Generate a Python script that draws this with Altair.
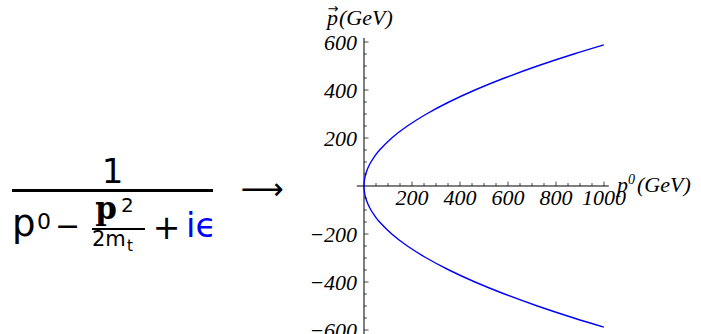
import altair as alt
import pandas as pd

# Momentum |p| (GeV) along the on-shell curve and the matching energy p0 (GeV)
p_vals = [-588, -550, -500, -450, -400, -350, -300, -250, -200, -150, -125, -100, -75, -50, -25,
          0, 25, 50, 75, 100, 125, 150, 200, 250, 300, 350, 400, 450, 500, 550, 588]
p0_vals = [999.3, 874.3, 722.5, 585.3, 462.4, 354.1, 260.1, 180.6, 115.6, 65.0, 45.2, 28.9, 16.3, 7.2, 1.8,
           0.0, 1.8, 7.2, 16.3, 28.9, 45.2, 65.0, 115.6, 180.6, 260.1, 354.1, 462.4, 585.3, 722.5, 874.3, 999.3]

# Axis ticks and their labels
x_ticks = list(range(50, 1001, 50))
y_ticks = [v for v in range(-600, 601, 50) if v != 0]
x_labels = [200, 400, 600, 800, 1000]
y_labels = [600, 400, 200, -200, -400, -600]

# Extent of the two axis lines crossing at the origin
x_axis_span = [-30, 1020]
y_axis_span = [-617, 617]

curve = pd.DataFrame({"p0": p0_vals, "p": p_vals, "order": range(len(p_vals))})
one = pd.DataFrame({"k": [0]})

xs = alt.Scale(domain=[-1516.667, 1404.167], nice=False, zero=False)
ys = alt.Scale(domain=[-616.667, 775.0], nice=False, zero=False)

SERIF = "Liberation Serif"
SANS = "DejaVu Sans"


def X(field):
    return alt.X(field, type="quantitative", scale=xs, axis=None)


def Y(field):
    return alt.Y(field, type="quantitative", scale=ys, axis=None)


def txt(s, x, y, size, font=SANS, align="left", color="black", style="normal", weight="normal", baseline="alphabetic"):
    return alt.Chart(one).mark_text(
        font=font, fontSize=size, align=align, baseline=baseline, color=color,
        fontStyle=style, fontWeight=weight,
    ).encode(x=alt.value(x), y=alt.value(y), text=alt.value(s))


def bar(x1, x2, y, w):
    return alt.Chart(one).mark_rule(color="black", strokeWidth=w).encode(
        x=alt.value(x1), x2=alt.value(x2), y=alt.value(y)
    )


# Axis lines through the origin
axes_df = pd.DataFrame({
    "x": [x_axis_span[0], 0], "x2": [x_axis_span[1], 0],
    "y": [0, y_axis_span[1]], "y2": [0, y_axis_span[0]],
})
axis_lines = alt.Chart(axes_df).mark_rule(color="black", strokeWidth=1).encode(
    x=X("x"), x2="x2", y=Y("y"), y2="y2"
)

xt = pd.DataFrame({"v": x_ticks, "zero": 0, "major": [v % 200 == 0 for v in x_ticks]})
yt = pd.DataFrame({"v": y_ticks, "zero": 0, "major": [v % 200 == 0 for v in y_ticks]})

x_minor = alt.Chart(xt).transform_filter("!datum.major").mark_tick(
    orient="vertical", size=3, thickness=1, color="black", yOffset=-1.5
).encode(x=X("v"), y=Y("zero"))
x_major = alt.Chart(xt).transform_filter("datum.major").mark_tick(
    orient="vertical", size=4.5, thickness=1, color="black", yOffset=-2.25
).encode(x=X("v"), y=Y("zero"))
y_minor = alt.Chart(yt).transform_filter("!datum.major").mark_tick(
    orient="horizontal", size=3, thickness=1, color="black", xOffset=1.5
).encode(x=X("zero"), y=Y("v"))
y_major = alt.Chart(yt).transform_filter("datum.major").mark_tick(
    orient="horizontal", size=4.5, thickness=1, color="black", xOffset=2.25
).encode(x=X("zero"), y=Y("v"))

xl = pd.DataFrame({"v": x_labels, "zero": 0, "s": [str(v) for v in x_labels]})
yl = pd.DataFrame({"v": y_labels, "zero": 0, "s": [str(v).replace("-", "\u2212") for v in y_labels]})

x_text = alt.Chart(xl).mark_text(
    font=SERIF, fontSize=22, fontStyle="italic", align="center", baseline="alphabetic", dy=19, color="black"
).encode(x=X("v"), y=Y("zero"), text="s:N")
y_text = alt.Chart(yl).mark_text(
    font=SERIF, fontSize=22, fontStyle="italic", align="right", baseline="middle", dx=-7, dy=1, color="black"
).encode(x=X("zero"), y=Y("v"), text="s:N")

line = alt.Chart(curve).mark_line(color="#0000ff", strokeWidth=1.4, interpolate="natural").encode(
    x=X("p0"), y=Y("p"), order="order:Q"
)

layers = [
    axis_lines, x_minor, x_major, y_minor, y_major, x_text, y_text, line,
    # axis titles
    txt("p", 617, 192, 22, SERIF, style="italic"),
    txt("0", 628, 184, 14, SERIF, style="italic"),
    txt("(GeV)", 637, 192, 22, SERIF, style="italic"),
    txt("p", 327, 25, 22, SERIF, style="italic"),
    txt("\u2192", 333, 13, 13, SANS, align="center"),
    txt("(GeV)", 339, 25, 22, SERIF, style="italic"),
    # propagator formula
    txt("1", 112.5, 183, 34, align="center"),
    bar(12, 213, 190.5, 3),
    txt("p", 12, 236, 37),
    txt("0", 37, 229, 22),
    txt("\u2212", 67.5, 236, 30, align="center"),
    txt("p", 106, 219, 31, "DejaVu Serif", align="center", weight="bold"),
    txt("2", 121, 212, 20),
    bar(92, 145, 229, 2),
    txt("2m", 92, 246, 21),
    txt("t", 127, 251, 15),
    txt("+", 166.5, 239, 33, align="center"),
    txt("i\u03f5", 186, 237, 34, color="#0000ff"),
    txt("\u27f6", 262, 199, 30, align="center"),
]

chart = alt.layer(*layers).properties(
    width=701, height=334, padding=0, autosize="none"
).configure_view(stroke=None)

chart.save("out.html", embed_options={"renderer": "svg", "actions": False})
